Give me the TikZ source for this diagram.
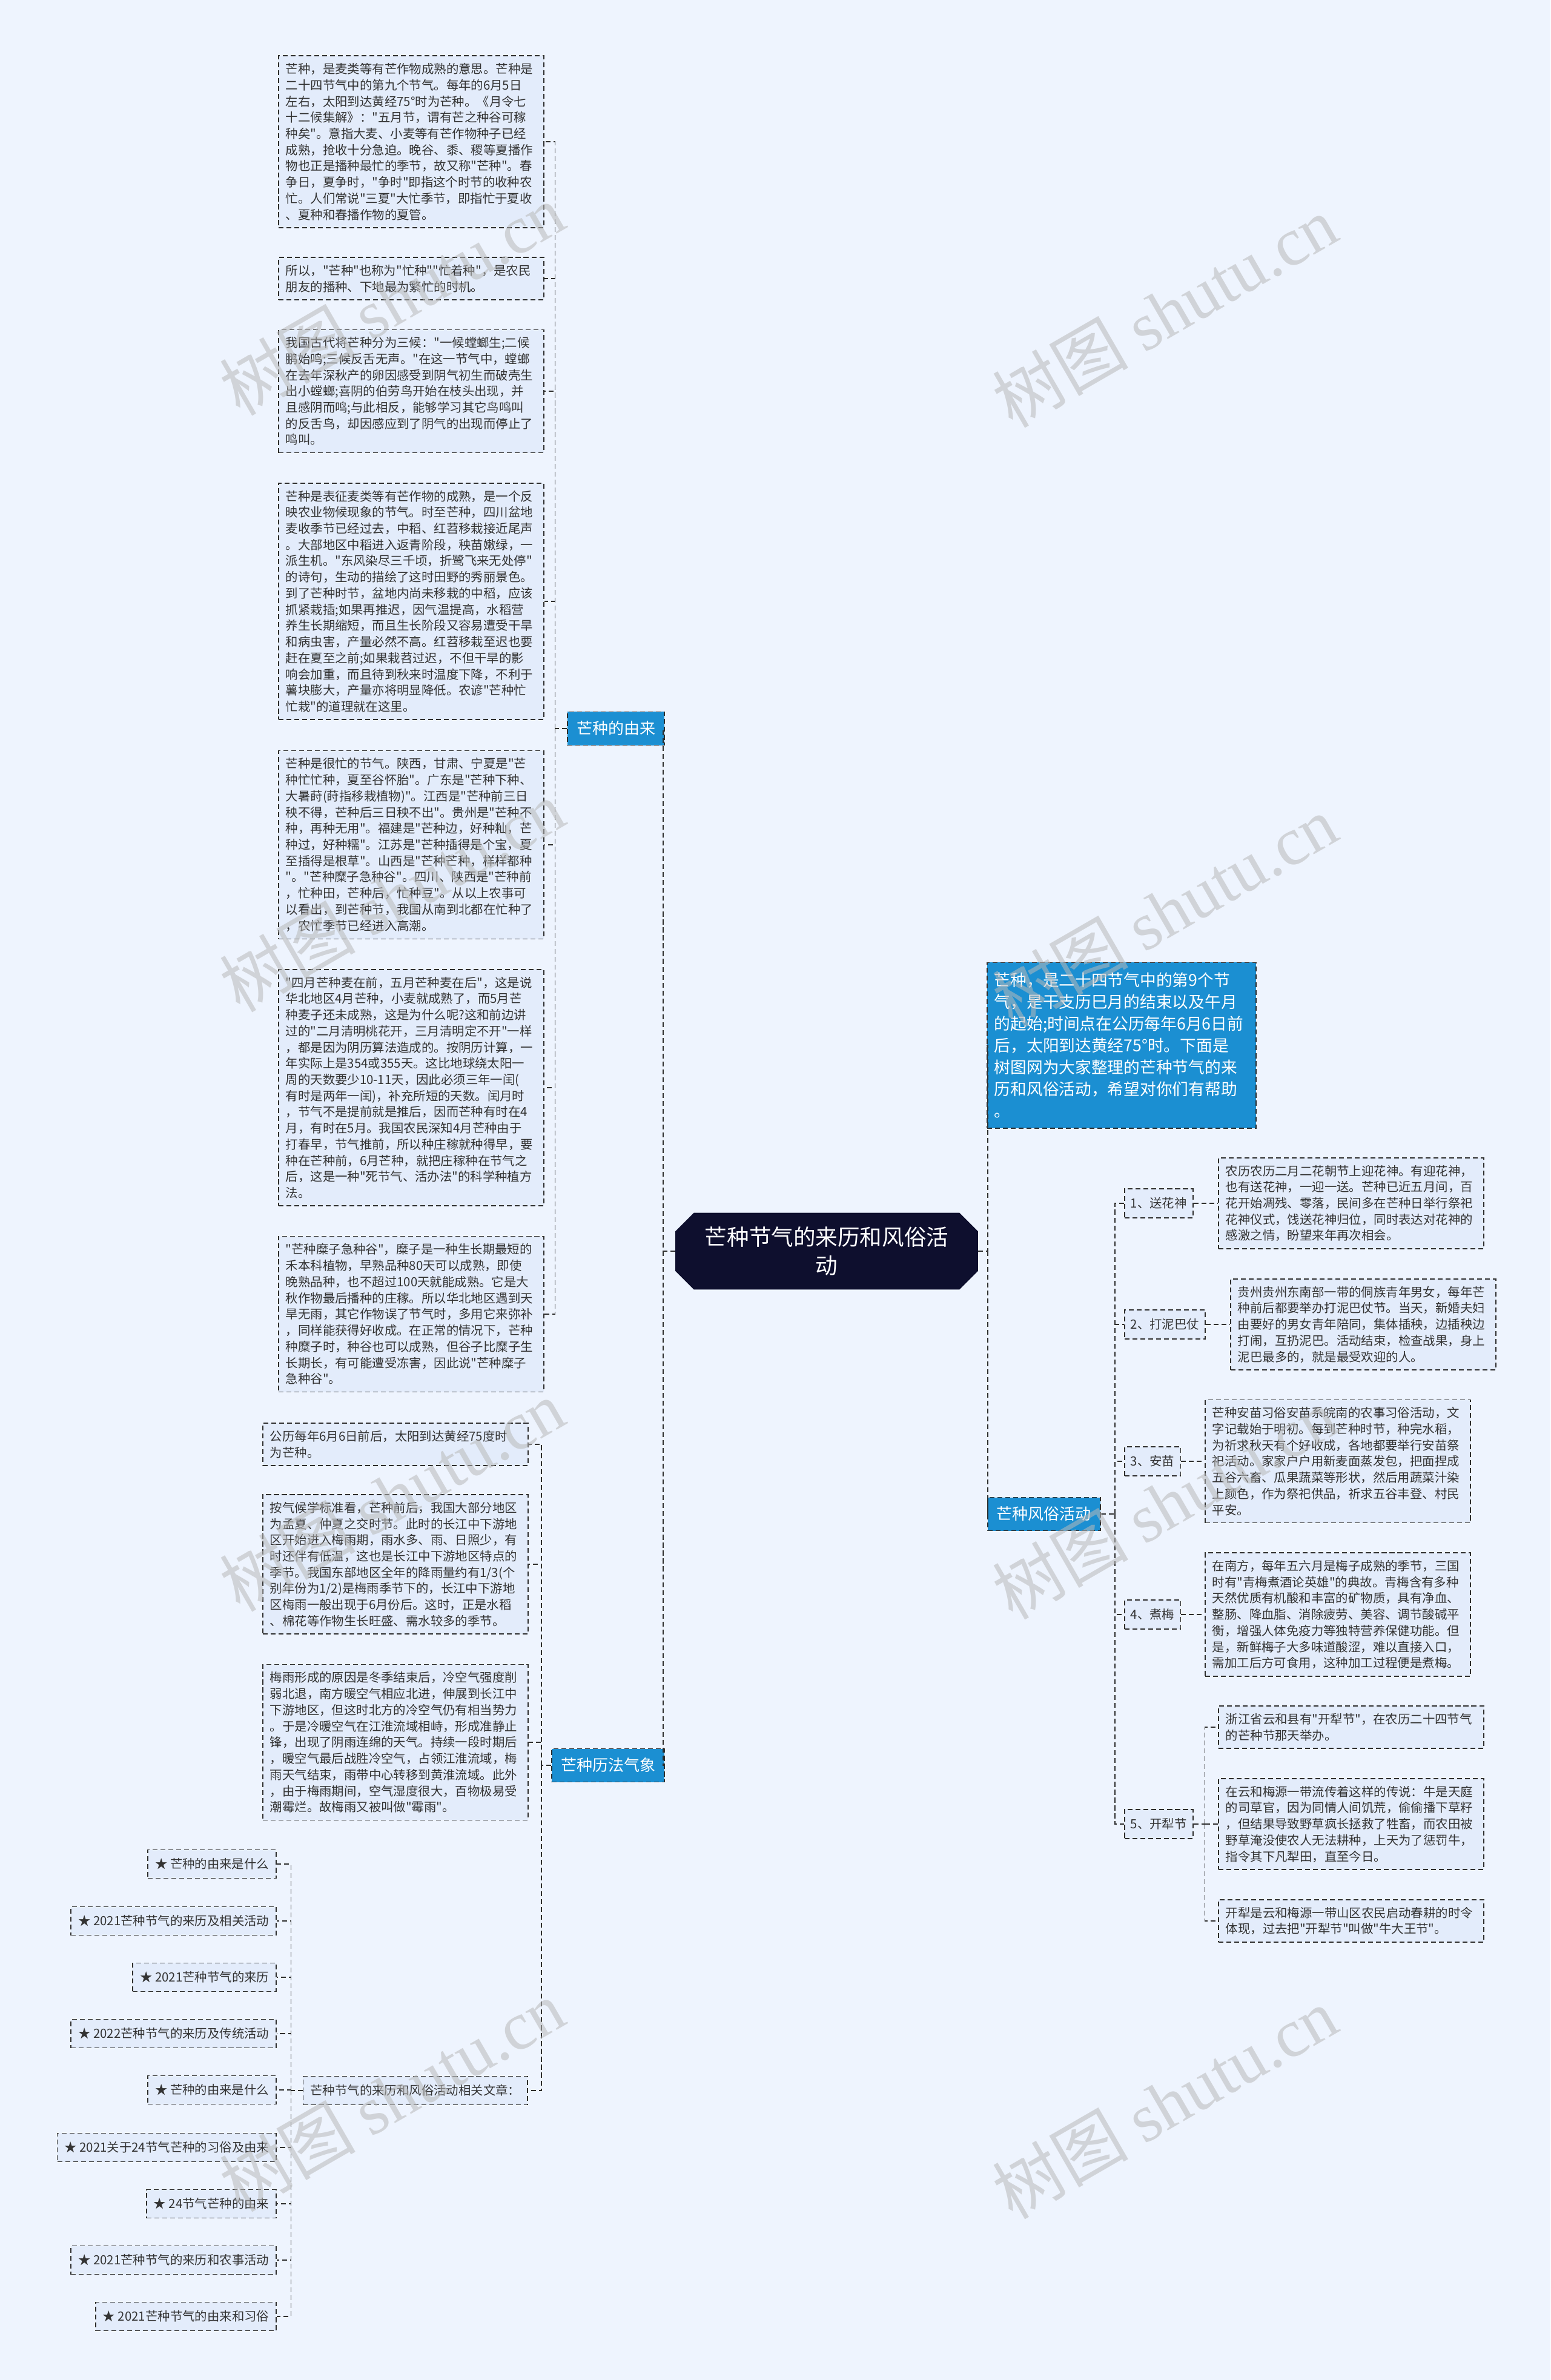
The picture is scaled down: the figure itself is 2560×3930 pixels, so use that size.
\documentclass[tikz,border=0pt]{standalone}
\usetikzlibrary{shapes.misc}

% raw font loads, so that " stays a straight quote
\font\txtfont="Noto Sans CJK SC" at 5.8pt
\font\brfont="Noto Sans CJK SC" at 7.4pt
\font\introfont="Noto Sans CJK SC" at 7.6pt
\font\topicfont="Noto Sans CJK SC" at 10.4pt
\font\wmcjk="Noto Sans CJK SC" at 32pt
\font\wmlat="Liberation Serif" at 32pt

\definecolor{pagebg}{HTML}{EEF4FE}
\definecolor{boxfill}{HTML}{E3ECFB}
\definecolor{linecol}{HTML}{2E2E2E}
\definecolor{bluefill}{HTML}{1B8FD2}
\definecolor{navy}{HTML}{0E0F2E}
\definecolor{inkcol}{HTML}{333333}

\newcommand{\txtsize}{\txtfont\baselineskip=7.6pt\relax}
\newcommand{\introsize}{\introfont\baselineskip=10.2pt\relax}
\newcommand{\topicsize}{\topicfont\baselineskip=13.6pt\relax}

\begin{document}
\begin{tikzpicture}[x=0.01cm,y=-0.01cm,
    link/.style={draw=linecol, line width=0.45pt, dash pattern=on 2.3pt off 1.4pt},
    txt/.style={link, fill=boxfill, text=inkcol, font=\txtsize, align=left,
        text width=4.14cm, inner xsep=0.12cm, inner ysep=0.12cm},
    item/.style={link, fill=boxfill, text=inkcol, font=\txtsize,
        minimum height=0.47cm, inner xsep=0.12cm, inner ysep=0pt},
    sub/.style={item, minimum height=0.48cm, inner xsep=0.1cm},
    branch/.style={link, fill=bluefill, text=white, font=\brfont,
        minimum height=0.55cm, inner xsep=0.15cm, inner ysep=0pt},
    intro/.style={link, fill=bluefill, text=white, font=\introsize,
        align=left, text width=4.2cm, inner xsep=0.12cm, inner ysep=0.17cm},
    topic/.style={chamfered rectangle, chamfered rectangle xsep=0.2cm, fill=navy, draw=navy,
        text=white, font=\topicsize, align=center,
        text width=4.1cm, inner xsep=0.24cm, minimum height=1.2cm},
    wm/.style={rotate=30, text=gray!55, opacity=0.55}
]
\fill[pagebg] (0,0) rectangle (2560,3930);
\useasboundingbox (0,0) rectangle (2560,3930);

% centre
\node[topic] (topic) at (1365,2066) {芒种节气的来历和风俗活\\动};

% left: 芒种的由来
\node[branch, anchor=east] (youlai) at (1098,1203) {芒种的由来};
\node[txt] (o1) at (679,234) {芒种，是麦类等有芒作物成熟的意思。芒种是\\二十四节气中的第九个节气。每年的6月5日\\左右，太阳到达黄经75°时为芒种。《月令七\\十二候集解》："五月节，谓有芒之种谷可稼\\种矣"。意指大麦、小麦等有芒作物种子已经\\成熟，抢收十分急迫。晚谷、黍、稷等夏播作\\物也正是播种最忙的季节，故又称"芒种"。春\\争日，夏争时，"争时"即指这个时节的收种农\\忙。人们常说"三夏"大忙季节，即指忙于夏收\\、夏种和春播作物的夏管。};
\node[txt] (o2) at (679,460) {所以，"芒种"也称为"忙种""忙着种"，是农民\\朋友的播种、下地最为繁忙的时机。};
\node[txt] (o3) at (679,646) {我国古代将芒种分为三候："一候螳螂生;二候\\鹏始鸣;三候反舌无声。"在这一节气中，螳螂\\在去年深秋产的卵因感受到阴气初生而破壳生\\出小螳螂;喜阴的伯劳鸟开始在枝头出现，并\\且感阴而鸣;与此相反，能够学习其它鸟鸣叫\\的反舌鸟，却因感应到了阴气的出现而停止了\\鸣叫。};
\node[txt] (o4) at (679,993) {芒种是表征麦类等有芒作物的成熟，是一个反\\映农业物候现象的节气。时至芒种，四川盆地\\麦收季节已经过去，中稻、红苕移栽接近尾声\\。大部地区中稻进入返青阶段，秧苗嫩绿，一\\派生机。"东风染尽三千顷，折鹭飞来无处停"\\的诗句，生动的描绘了这时田野的秀丽景色。\\到了芒种时节，盆地内尚未移栽的中稻，应该\\抓紧栽插;如果再推迟，因气温提高，水稻营\\养生长期缩短，而且生长阶段又容易遭受干旱\\和病虫害，产量必然不高。红苕移栽至迟也要\\赶在夏至之前;如果栽苕过迟，不但干旱的影\\响会加重，而且待到秋来时温度下降，不利于\\薯块膨大，产量亦将明显降低。农谚"芒种忙\\忙栽"的道理就在这里。};
\node[txt] (o5) at (679,1395) {芒种是很忙的节气。陕西，甘肃、宁夏是"芒\\种忙忙种，夏至谷怀胎"。广东是"芒种下种、\\大暑莳(莳指移栽植物)"。江西是"芒种前三日\\秧不得，芒种后三日秧不出"。贵州是"芒种不\\种，再种无用"。福建是"芒种边，好种籼，芒\\种过，好种糯"。江苏是"芒种插得是个宝，夏\\至插得是根草"。山西是"芒种芒种，样样都种\\"。"芒种糜子急种谷"。四川、陕西是"芒种前\\，忙种田，芒种后，忙种豆"。从以上农事可\\以看出，到芒种节，我国从南到北都在忙种了\\，农忙季节已经进入高潮。};
\node[txt] (o6) at (679,1796) {"四月芒种麦在前，五月芒种麦在后"，这是说\\华北地区4月芒种，小麦就成熟了，而5月芒\\种麦子还未成熟，这是为什么呢?这和前边讲\\过的"二月清明桃花开，三月清明定不开"一样\\，都是因为阴历算法造成的。按阴历计算，一\\年实际上是354或355天。这比地球绕太阳一\\周的天数要少10-11天，因此必须三年一闰(\\有时是两年一闰)，补充所短的天数。闰月时\\，节气不是提前就是推后，因而芒种有时在4\\月，有时在5月。我国农民深知4月芒种由于\\打春早，节气推前，所以种庄稼就种得早，要\\种在芒种前，6月芒种，就把庄稼种在节气之\\后，这是一种"死节气、活办法"的科学种植方\\法。};
\node[txt] (o7) at (679,2170) {"芒种糜子急种谷"，糜子是一种生长期最短的\\禾本科植物，早熟品种80天可以成熟，即使\\晚熟品种，也不超过100天就能成熟。它是大\\秋作物最后播种的庄稼。所以华北地区遇到天\\旱无雨，其它作物误了节气时，多用它来弥补\\，同样能获得好收成。在正常的情况下，芒种\\种糜子时，种谷也可以成熟，但谷子比糜子生\\长期长，有可能遭受冻害，因此说"芒种糜子\\急种谷"。};

% left: 芒种历法气象
\node[branch, anchor=east] (lifa) at (1098,2915) {芒种历法气象};
\node[txt] (o8) at (653,2385) {公历每年6月6日前后，太阳到达黄经75度时\\为芒种。};
\node[txt] (o9) at (653,2583) {按气候学标准看，芒种前后，我国大部分地区\\为孟夏、仲夏之交时节。此时的长江中下游地\\区开始进入梅雨期，雨水多、雨、日照少，有\\时还伴有低温，这也是长江中下游地区特点的\\季节。我国东部地区全年的降雨量约有1/3(个\\别年份为1/2)是梅雨季节下的，长江中下游地\\区梅雨一般出现于6月份后。这时，正是水稻\\、棉花等作物生长旺盛、需水较多的季节。};
\node[txt] (o10) at (653,2877) {梅雨形成的原因是冬季结束后，冷空气强度削\\弱北退，南方暖空气相应北进，伸展到长江中\\下游地区，但这时北方的冷空气仍有相当势力\\。于是冷暖空气在江淮流域相峙，形成准静止\\锋，出现了阴雨连绵的天气。持续一段时期后\\，暖空气最后战胜冷空气，占领江淮流域，梅\\雨天气结束，雨带中心转移到黄淮流域。此外\\，由于梅雨期间，空气湿度很大，百物极易受\\潮霉烂。故梅雨又被叫做"霉雨"。};
\node[item, anchor=east] (rel) at (872,3452) {芒种节气的来历和风俗活动相关文章：};

% related articles
\node[item, anchor=east] (a1) at (457,3078) {★ 芒种的由来是什么};
\node[item, anchor=east] (a2) at (457,3172) {★ 2021芒种节气的来历及相关活动};
\node[item, anchor=east] (a3) at (457,3265) {★ 2021芒种节气的来历};
\node[item, anchor=east] (a4) at (457,3358) {★ 2022芒种节气的来历及传统活动};
\node[item, anchor=east] (a5) at (457,3451) {★ 芒种的由来是什么};
\node[item, anchor=east] (a6) at (457,3546) {★ 2021关于24节气芒种的习俗及由来};
\node[item, anchor=east] (a7) at (457,3639) {★ 24节气芒种的由来};
\node[item, anchor=east] (a8) at (457,3732) {★ 2021芒种节气的来历和农事活动};
\node[item, anchor=east] (a9) at (457,3825) {★ 2021芒种节气的由来和习俗};

% right side
\node[intro] (intro) at (1852,1726) {芒种，是二十四节气中的第9个节\\气，是干支历巳月的结束以及午月\\的起始;时间点在公历每年6月6日前\\后，太阳到达黄经75°时。下面是\\树图网为大家整理的芒种节气的来\\历和风俗活动，希望对你们有帮助\\。};
\node[branch, anchor=west] (fengsu) at (1630,2500) {芒种风俗活动};

\node[sub, anchor=west] (b1) at (1856,1987) {1、送花神};
\node[sub, anchor=west] (b2) at (1856,2187) {2、打泥巴仗};
\node[sub, anchor=west] (b3) at (1856,2413) {3、安苗};
\node[sub, anchor=west] (b4) at (1856,2666) {4、煮梅};
\node[sub, anchor=west] (b5) at (1856,3012) {5、开犁节};

\node[txt] (r1) at (2231,1987) {农历农历二月二花朝节上迎花神。有迎花神，\\也有送花神，一迎一送。芒种已近五月间，百\\花开始凋残、零落，民间多在芒种日举行祭祀\\花神仪式，饯送花神归位，同时表达对花神的\\感激之情，盼望来年再次相会。};
\node[txt] (r2) at (2251,2187) {贵州贵州东南部一带的侗族青年男女，每年芒\\种前后都要举办打泥巴仗节。当天，新婚夫妇\\由要好的男女青年陪同，集体插秧，边插秧边\\打闹，互扔泥巴。活动结束，检查战果，身上\\泥巴最多的，就是最受欢迎的人。};
\node[txt] (r3) at (2209,2413) {芒种安苗习俗安苗系皖南的农事习俗活动，文\\字记载始于明初。每到芒种时节，种完水稻，\\为祈求秋天有个好收成，各地都要举行安苗祭\\祀活动。家家户户用新麦面蒸发包，把面捏成\\五谷六畜、瓜果蔬菜等形状，然后用蔬菜汁染\\上颜色，作为祭祀供品，祈求五谷丰登、村民\\平安。};
\node[txt] (r4) at (2209,2666) {在南方，每年五六月是梅子成熟的季节，三国\\时有"青梅煮酒论英雄"的典故。青梅含有多种\\天然优质有机酸和丰富的矿物质，具有净血、\\整肠、降血脂、消除疲劳、美容、调节酸碱平\\衡，增强人体免疫力等独特营养保健功能。但\\是，新鲜梅子大多味道酸涩，难以直接入口，\\需加工后方可食用，这种加工过程便是煮梅。};
\node[txt] (ka) at (2231,2852) {浙江省云和县有"开犁节"，在农历二十四节气\\的芒种节那天举办。};
\node[txt] (kb) at (2231,3012) {在云和梅源一带流传着这样的传说：牛是天庭\\的司草官，因为同情人间饥荒，偷偷播下草籽\\，但结果导致野草疯长拯救了牲畜，而农田被\\野草淹没使农人无法耕种，上天为了惩罚牛，\\指令其下凡犁田，直至今日。};
\node[txt] (kc) at (2231,3172) {开犁是云和梅源一带山区农民启动春耕的时令\\体现，过去把"开犁节"叫做"牛大王节"。};

% connectors, left
\draw[link] (topic.west) -- ++(-20,0) coordinate (lsp) |- (youlai.east);
\draw[link] (lsp) |- (lifa.east);
\draw[link] (youlai.west) -- ++(-20,0) coordinate (ysp);
\foreach \i in {1,...,7} \draw[link] (ysp) |- (o\i.east);
\draw[link] (lifa.west) -- ++(-16,0) coordinate (lfsp);
\foreach \i in {8,9,10} \draw[link] (lfsp) |- (o\i.east);
\draw[link] (lfsp) |- (rel.east);
\draw[link] (rel.west) -- ++(-19,0) coordinate (rsp);
\foreach \i in {1,...,9} \draw[link] (rsp) |- (a\i.east);

% connectors, right
\draw[link] (topic.east) -- ++(16,0) coordinate (tsp) |- (intro.west);
\draw[link] (tsp) |- (fengsu.west);
\draw[link] (fengsu.east) -- ++(23,0) coordinate (fsp);
\foreach \i in {1,...,5} \draw[link] (fsp) |- (b\i.west);
\foreach \i in {1,...,4} \draw[link] (b\i.east) -- (b\i.east -| r\i.west);
\draw[link] (b5.east) -- ++(19,0) coordinate (ksp);
\foreach \k in {a,b,c} \draw[link] (ksp) |- (k\k.west);

% watermark
\foreach \wx/\wy in {647/494, 1923/514, 647/1479, 1923/1504, 647/2469, 1923/2482, 647/3460, 1923/3472}
    \node[wm] at (\wx,\wy) {\wmcjk 树图 \wmlat shutu.cn};
\end{tikzpicture}
\end{document}
